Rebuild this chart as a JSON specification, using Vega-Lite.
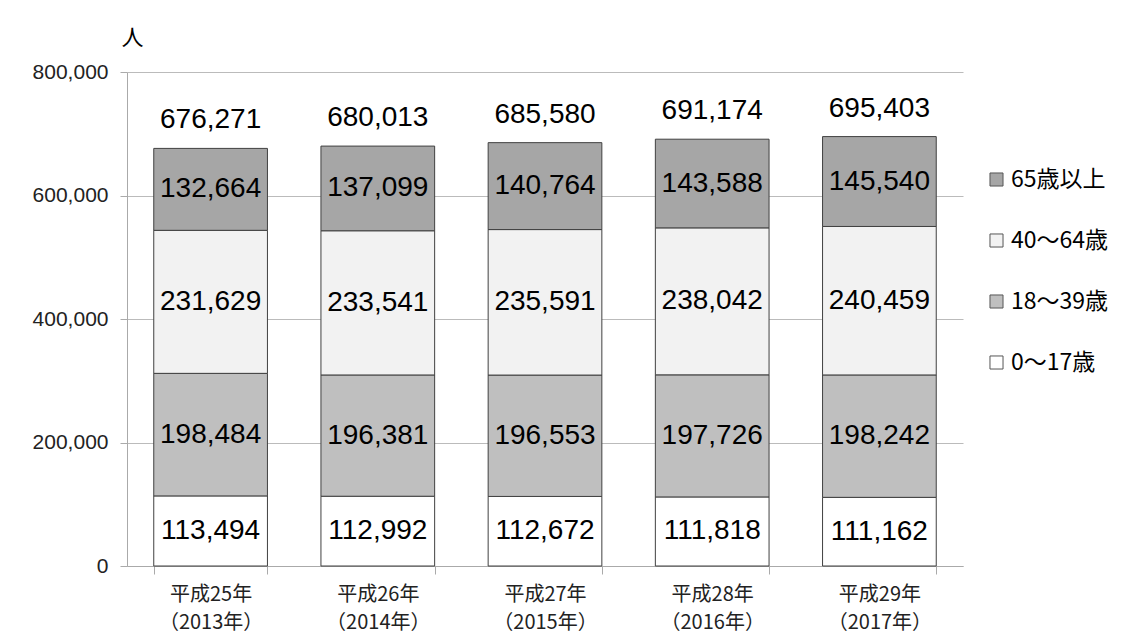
{
  "$schema": "https://vega.github.io/schema/vega-lite/v6.json",
  "width": 836,
  "height": 494,
  "autosize": {"type": "none"},
  "padding": {"left": 127, "top": 72, "right": 164, "bottom": 67},
  "background": "white",
  "config": {
    "font": "Liberation Sans, Noto Sans CJK JP, sans-serif",
    "view": {"stroke": null}
  },
  "data": {
    "values": [
      {"year": "平成25年 （2013年）", "group": "0〜17歳", "value": 113494},
      {"year": "平成25年 （2013年）", "group": "18〜39歳", "value": 198484},
      {"year": "平成25年 （2013年）", "group": "40〜64歳", "value": 231629},
      {"year": "平成25年 （2013年）", "group": "65歳以上", "value": 132664},
      {"year": "平成26年 （2014年）", "group": "0〜17歳", "value": 112992},
      {"year": "平成26年 （2014年）", "group": "18〜39歳", "value": 196381},
      {"year": "平成26年 （2014年）", "group": "40〜64歳", "value": 233541},
      {"year": "平成26年 （2014年）", "group": "65歳以上", "value": 137099},
      {"year": "平成27年 （2015年）", "group": "0〜17歳", "value": 112672},
      {"year": "平成27年 （2015年）", "group": "18〜39歳", "value": 196553},
      {"year": "平成27年 （2015年）", "group": "40〜64歳", "value": 235591},
      {"year": "平成27年 （2015年）", "group": "65歳以上", "value": 140764},
      {"year": "平成28年 （2016年）", "group": "0〜17歳", "value": 111818},
      {"year": "平成28年 （2016年）", "group": "18〜39歳", "value": 197726},
      {"year": "平成28年 （2016年）", "group": "40〜64歳", "value": 238042},
      {"year": "平成28年 （2016年）", "group": "65歳以上", "value": 143588},
      {"year": "平成29年 （2017年）", "group": "0〜17歳", "value": 111162},
      {"year": "平成29年 （2017年）", "group": "18〜39歳", "value": 198242},
      {"year": "平成29年 （2017年）", "group": "40〜64歳", "value": 240459},
      {"year": "平成29年 （2017年）", "group": "65歳以上", "value": 145540}
    ]
  },
  "layer": [
    {
      "mark": {"type": "bar", "stroke": "#404040", "strokeWidth": 1},
      "encoding": {
        "x": {
          "field": "year", "type": "nominal", "sort": null,
          "scale": {"paddingInner": 0.32, "paddingOuter": 0.16},
          "axis": {
            "title": null, "labelAngle": 0, "labelFontSize": 20, "labelLineHeight": 28,
            "labelExpr": "split(datum.label, ' ')", "tickBand": "extent", "tickSize": 8,
            "labelPadding": 10, "domainColor": "#aaaaaa", "tickColor": "#aaaaaa",
            "labelColor": "#222222", "labelFont": "Noto Sans CJK JP"
          }
        },
        "y": {
          "field": "value", "type": "quantitative", "stack": "zero",
          "scale": {"domain": [0, 800000]},
          "axis": {
            "title": "人", "titleAngle": 0, "titleX": -6, "titleY": -35, "titleAlign": "left",
            "titleBaseline": "middle", "titleFontSize": 22, "titleFontWeight": "normal",
            "titleColor": "#000000", "titleFont": "Noto Sans CJK JP",
            "values": [0, 200000, 400000, 600000, 800000],
            "labelExpr": "format(datum.value, ',')",
            "labelFontSize": 21, "labelColor": "#222222", "gridColor": "#bbbbbb",
            "domainColor": "#aaaaaa", "tickColor": "#aaaaaa", "tickSize": 7, "labelPadding": 12
          }
        },
        "color": {
          "field": "group", "type": "nominal",
          "scale": {
            "domain": ["65歳以上", "40〜64歳", "18〜39歳", "0〜17歳"],
            "range": ["#a6a6a6", "#f2f2f2", "#bfbfbf", "#ffffff"]
          },
          "legend": {
            "orient": "none", "legendX": 858, "legendY": 96, "title": null,
            "symbolType": "square", "symbolSize": 170, "symbolStrokeColor": "#555555",
            "symbolStrokeWidth": 1, "labelFontSize": 23, "labelColor": "#000000",
            "labelFont": "Noto Sans CJK JP", "rowPadding": 37, "padding": 0, "labelOffset": 3
          }
        },
        "order": {"field": "group", "sort": "ascending"}
      }
    },
    {
      "transform": [
        {"stack": "value", "groupby": ["year"], "sort": [{"field": "group", "order": "ascending"}], "as": ["y0", "y1"]},
        {"fold": ["y0", "y1"], "as": ["edge", "pos"]},
        {"aggregate": [{"op": "mean", "field": "pos", "as": "mid"}], "groupby": ["year", "group", "value"]}
      ],
      "mark": {"type": "text", "fontSize": 28, "baseline": "middle", "color": "#000000"},
      "encoding": {
        "x": {"field": "year", "type": "nominal", "sort": null},
        "y": {"field": "mid", "type": "quantitative", "title": "人"},
        "text": {"field": "value", "type": "quantitative", "format": ","}
      }
    },
    {
      "mark": {"type": "text", "fontSize": 28, "baseline": "alphabetic", "dy": -20, "color": "#000000"},
      "encoding": {
        "x": {"field": "year", "type": "nominal", "sort": null},
        "y": {"field": "value", "aggregate": "sum", "type": "quantitative", "title": "人"},
        "text": {"field": "value", "aggregate": "sum", "type": "quantitative", "format": ","}
      }
    }
  ]
}
